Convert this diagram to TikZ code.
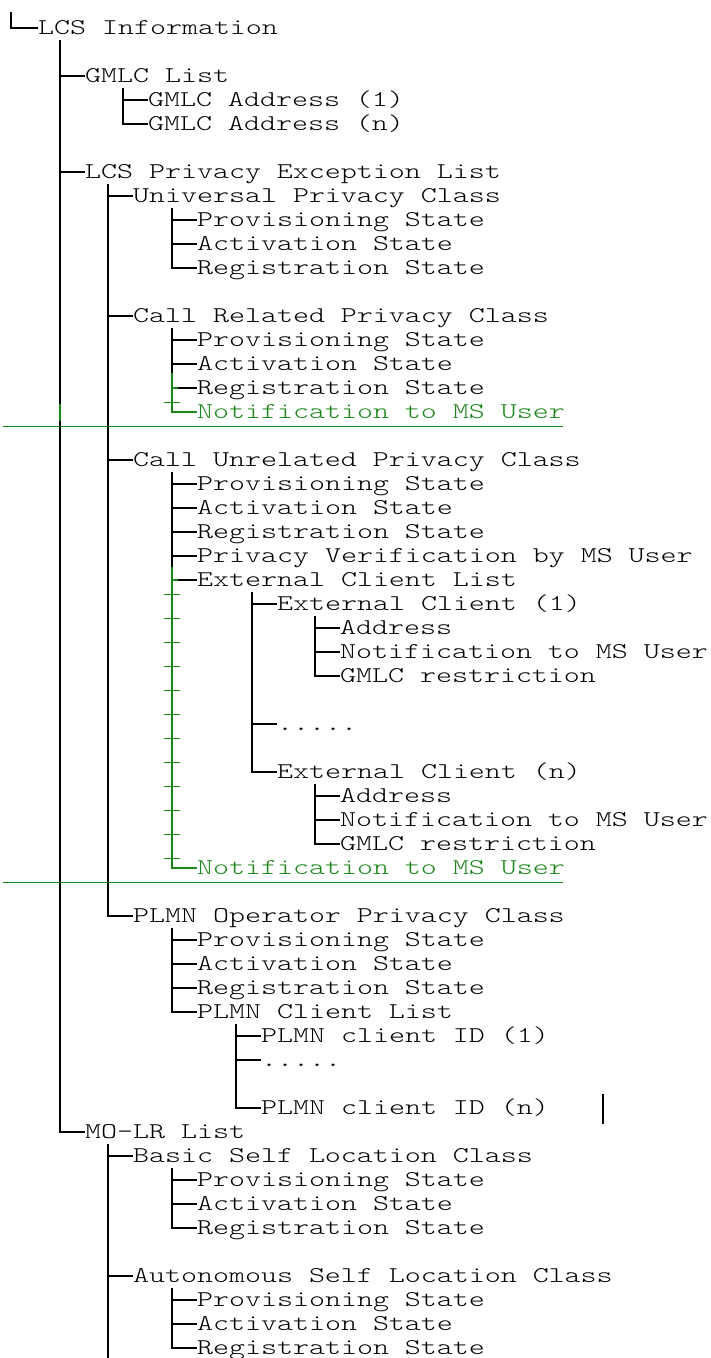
\documentclass[tikz,border=0pt]{standalone}
\usepackage{fontspec}
\usepackage{xcolor}
\newfontfamily\treefont{lmmonolt10-regular.otf}[FakeStretch=1.353]
\definecolor{revgreen}{RGB}{25,135,25}

\begin{document}
\begin{tikzpicture}[x=1pt, y=-1pt,
		item/.style={anchor=west, inner sep=0pt, text height=13.6pt, text depth=0pt, font={\fontsize{22.5}{24}\treefont}},
		branch/.style={line width=1.5pt},
		revline/.style={draw=revgreen, line width=1pt}]
			\clip (0,0) rectangle (710,1358);
			
			\node[item](lcs) at (38,28) {LCS Information};
			\node[item](gmlc) at (85,76) {GMLC List};
			\node[item](ga1) at (148,100) {GMLC Address (1)};
			\node[item](gan) at (148,124) {GMLC Address (n)};
			\node[item](lpel) at (85,172) {LCS Privacy Exception List};
			\node[item](upc) at (133,196) {Universal Privacy Class};
			\node[item](upc-p) at (197,220) {Provisioning State};
			\node[item](upc-a) at (197,244) {Activation State};
			\node[item](upc-r) at (197,268) {Registration State};
			\node[item](crpc) at (133,316) {Call Related Privacy Class};
			\node[item](crpc-p) at (197,340) {Provisioning State};
			\node[item](crpc-a) at (197,364) {Activation State};
			\node[item](crpc-r) at (197,388) {Registration State};
			\node[item, text=revgreen](crpc-n) at (197,412) {Notification to MS User};
			\node[item](cupc) at (133,460) {Call Unrelated Privacy Class};
			\node[item](cupc-p) at (197,484) {Provisioning State};
			\node[item](cupc-a) at (197,508) {Activation State};
			\node[item](cupc-r) at (197,532) {Registration State};
			\node[item](cupc-v) at (197,556) {Privacy Verification by MS User};
			\node[item](ecl) at (197,580) {External Client List};
			\node[item](ec1) at (277,604) {External Client (1)};
			\node[item](ec1-a) at (340,628) {Address};
			\node[item](ec1-n) at (340,652) {Notification to MS User};
			\node[item](ec1-g) at (340,676) {GMLC restriction};
			\node[item](ecdots) at (277,724) {.....};
			\node[item](ecn) at (277,772) {External Client (n)};
			\node[item](ecn-a) at (340,796) {Address};
			\node[item](ecn-n) at (340,820) {Notification to MS User};
			\node[item](ecn-g) at (340,844) {GMLC restriction};
			\node[item, text=revgreen](cupc-n) at (197,868) {Notification to MS User};
			\node[item](oppc) at (133,916) {PLMN Operator Privacy Class};
			\node[item](oppc-p) at (197,940) {Provisioning State};
			\node[item](oppc-a) at (197,964) {Activation State};
			\node[item](oppc-r) at (197,988) {Registration State};
			\node[item](pcl) at (197,1012) {PLMN Client List};
			\node[item](pc1) at (261,1036) {PLMN client ID (1)};
			\node[item](pcdots) at (261,1060) {.....};
			\node[item](pcn) at (261,1108) {PLMN client ID (n)};
			\node[item](molr) at (85,1132) {MO-LR List};
			\node[item](bslc) at (133,1156) {Basic Self Location Class};
			\node[item](bslc-p) at (197,1180) {Provisioning State};
			\node[item](bslc-a) at (197,1204) {Activation State};
			\node[item](bslc-r) at (197,1228) {Registration State};
			\node[item](aslc) at (133,1276) {Autonomous Self Location Class};
			\node[item](aslc-p) at (197,1300) {Provisioning State};
			\node[item](aslc-a) at (197,1324) {Activation State};
			\node[item](aslc-r) at (197,1348) {Registration State};
			
			% trunk tops
			\coordinate (root) at (11,12);
			\coordinate (t-lcs) at (60,40);
			\coordinate (t-gmlc) at (123,88);
			\coordinate (t-lpel) at (108,184);
			\coordinate (t-upc) at (172,208);
			\coordinate (t-crpc) at (172,328);
			\coordinate (g-crpc) at (172,373);
			\coordinate (t-cupc) at (172,472);
			\coordinate (g-cupc) at (172,567);
			\coordinate (t-ecl) at (252,592);
			\coordinate (t-ec1) at (315,616);
			\coordinate (t-ecn) at (315,784);
			\coordinate (t-oppc) at (172,928);
			\coordinate (t-pcl) at (236,1024);
			\coordinate (t-molr) at (108,1144);
			\coordinate (t-bslc) at (172,1168);
			\coordinate (t-aslc) at (172,1288);
			\coordinate (end-molr) at (108,1360);
			
			\draw[branch] (root) |- (lcs.west);
			\draw[branch] (t-lcs) |- (molr.west);
			\draw[branch] (t-lcs |- gmlc) -- (gmlc.west);
			\draw[branch] (t-lcs |- lpel) -- (lpel.west);
			
			\draw[branch] (t-gmlc) |- (gan.west);
			\draw[branch] (t-gmlc |- ga1) -- (ga1.west);
			
			\draw[branch] (t-lpel) |- (oppc.west);
			\draw[branch] (t-lpel |- upc) -- (upc.west);
			\draw[branch] (t-lpel |- crpc) -- (crpc.west);
			\draw[branch] (t-lpel |- cupc) -- (cupc.west);
			
			\draw[branch] (t-upc) |- (upc-r.west);
			\draw[branch] (t-upc |- upc-p) -- (upc-p.west);
			\draw[branch] (t-upc |- upc-a) -- (upc-a.west);
			
			\draw[branch] (t-crpc) -- (g-crpc);
			\draw[branch, revgreen] (g-crpc) |- (crpc-n.west);
			\draw[branch] (t-crpc |- crpc-p) -- (crpc-p.west);
			\draw[branch] (t-crpc |- crpc-a) -- (crpc-a.west);
			\draw[branch] (t-crpc |- crpc-r) -- (crpc-r.west);
			\draw[branch, revgreen] (t-crpc |- crpc-r) -- ++(6,0);
			
			\draw[branch] (t-cupc) -- (g-cupc);
			\draw[branch, revgreen] (g-cupc) |- (cupc-n.west);
			\draw[branch] (t-cupc |- cupc-p) -- (cupc-p.west);
			\draw[branch] (t-cupc |- cupc-a) -- (cupc-a.west);
			\draw[branch] (t-cupc |- cupc-r) -- (cupc-r.west);
			\draw[branch] (t-cupc |- cupc-v) -- (cupc-v.west);
			\draw[branch] (t-cupc |- ecl) -- (ecl.west);
			\draw[branch, revgreen] (t-cupc |- ecl) -- ++(6,0);
			
			\draw[branch] (t-ecl) |- (ecn.west);
			\draw[branch] (t-ecl |- ec1) -- (ec1.west);
			\draw[branch] (t-ecl |- ecdots) -- (ecdots.west);
			
			\draw[branch] (t-ec1) |- (ec1-g.west);
			\draw[branch] (t-ec1 |- ec1-a) -- (ec1-a.west);
			\draw[branch] (t-ec1 |- ec1-n) -- (ec1-n.west);
			
			\draw[branch] (t-ecn) |- (ecn-g.west);
			\draw[branch] (t-ecn |- ecn-a) -- (ecn-a.west);
			\draw[branch] (t-ecn |- ecn-n) -- (ecn-n.west);
			
			\draw[branch] (t-oppc) |- (pcl.west);
			\draw[branch] (t-oppc |- oppc-p) -- (oppc-p.west);
			\draw[branch] (t-oppc |- oppc-a) -- (oppc-a.west);
			\draw[branch] (t-oppc |- oppc-r) -- (oppc-r.west);
			
			\draw[branch] (t-pcl) |- (pcn.west);
			\draw[branch] (t-pcl |- pc1) -- (pc1.west);
			\draw[branch] (t-pcl |- pcdots) -- (pcdots.west);
			
			\draw[branch] (t-molr) -- (end-molr);
			\draw[branch] (t-molr |- bslc) -- (bslc.west);
			\draw[branch] (t-molr |- aslc) -- (aslc.west);
			
			\draw[branch] (t-bslc) |- (bslc-r.west);
			\draw[branch] (t-bslc |- bslc-p) -- (bslc-p.west);
			\draw[branch] (t-bslc |- bslc-a) -- (bslc-a.west);
			
			\draw[branch] (t-aslc) |- (aslc-r.west);
			\draw[branch] (t-aslc |- aslc-p) -- (aslc-p.west);
			\draw[branch] (t-aslc |- aslc-a) -- (aslc-a.west);
			
			% revision marks
			\draw[branch, revgreen] (60,404) -- (60,421);
			\draw[revline] (164,402) -- (180,402);
			\foreach \y in {594,618,...,858}
				\draw[revline] (164,\y) -- (180,\y);
			\draw[revline] (3,426) -- (563,426);
			\draw[revline] (3,882) -- (563,882);
			\draw[branch] (603,1094) -- (603,1124);
		\end{tikzpicture}
\end{document}
